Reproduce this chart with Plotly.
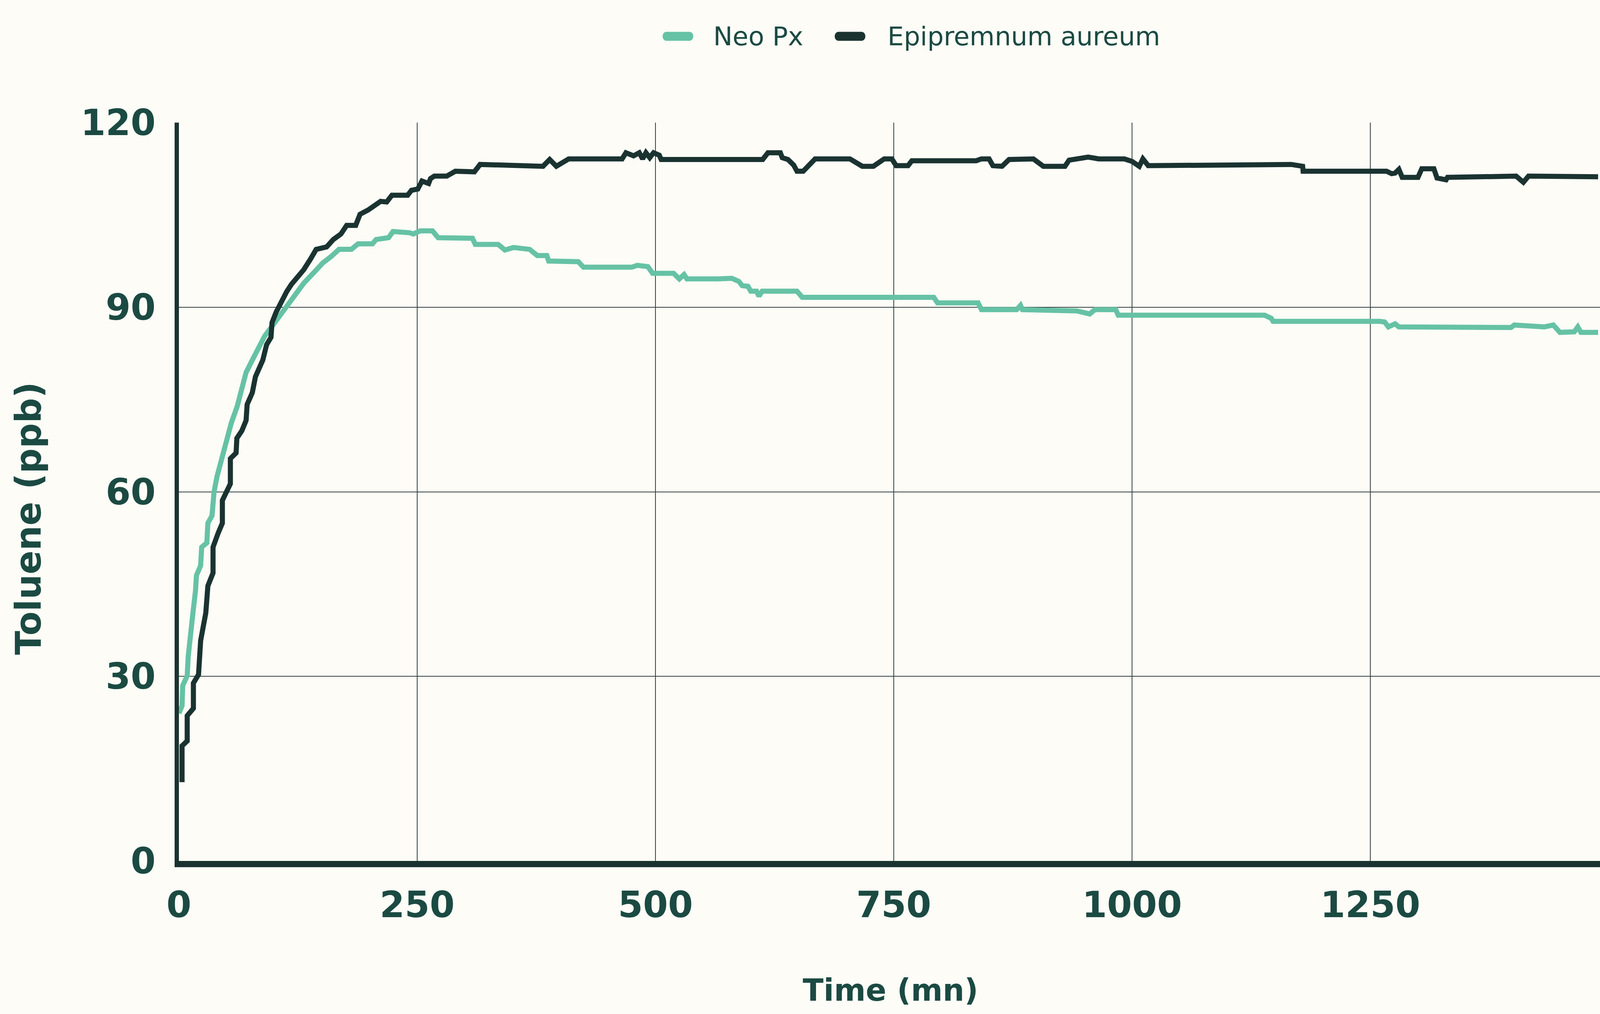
import plotly.graph_objects as go

# ---------------- data ----------------
series_names = ["Neo Px", "Epipremnum aureum"]

neo_t = [0, 3.3, 4.0, 8.7, 9.8, 12, 13, 15, 17.4, 18.4, 22.8, 23.9, 29.3, 30.4, 34.7,
         36.9, 40, 45.6, 50, 55, 61, 66, 70.5, 77, 83.5, 90, 98.7, 107, 114, 122.6,
         131, 142, 151, 159.5, 168, 181, 188, 203, 207, 220, 224.6, 242, 246, 253,
         266, 272, 308, 311, 335, 342, 351, 368, 376, 386, 388, 419, 424.4, 475,
         481, 492, 497, 519, 525, 530, 533, 566, 580, 587.4, 591, 597, 600, 606,
         608.5, 612, 648.5, 654, 751.5, 768.5, 792, 796, 838.5, 842, 879, 883, 885,
         942, 955.6, 961, 983, 985.5, 1139, 1146, 1148, 1259.6, 1265, 1269, 1276,
         1280, 1397.7, 1401, 1423, 1432.7, 1442, 1449, 1464, 1467.7, 1471, 1489]
neo_v = [24.0, 25.2, 28.5, 30.1, 33.3, 36.6, 39.4, 40.7, 43.9, 46.4, 48.0, 51.0, 51.7,
         54.9, 56.1, 60.0, 62.5, 65.8, 68.9, 71.2, 73.8, 76.9, 79.4, 81.4, 83.4, 85.3,
         87.1, 88.8, 90.4, 92.0, 93.9, 95.7, 97.2, 98.2, 99.4, 99.4, 100.3, 100.3,
         101.0, 101.3, 102.3, 102.1, 101.9, 102.4, 102.4, 101.3, 101.2, 100.2, 100.2,
         99.3, 99.7, 99.4, 98.4, 98.4, 97.5, 97.4, 96.5, 96.5, 96.8, 96.6, 95.5, 95.5,
         94.6, 95.3, 94.6, 94.6, 94.7, 94.2, 93.5, 93.4, 92.6, 92.6, 91.8, 92.6, 92.6,
         91.6, 91.6, 91.5, 91.6, 90.7, 90.7, 89.6, 89.6, 90.3, 89.6, 89.4, 88.9, 89.6,
         89.6, 88.7, 88.7, 88.2, 87.7, 87.7, 87.6, 86.8, 87.3, 86.8, 86.7, 87.1, 87.0,
         86.8, 87.1, 85.9, 86.0, 86.8, 85.9, 85.9]

epi_t = [3.3, 3.3, 8.7, 8.7, 15.2, 15.2, 20.6, 22.8, 28.2, 30.4, 35.8, 35.8, 41.2, 45.6,
         45.6, 50, 54, 54, 60, 60.8, 66, 70.5, 71.6, 77, 80.3, 88, 92, 96.6, 97.7, 102,
         107, 113, 118, 125, 131, 138, 144, 155, 162, 170, 176, 185.5, 190, 198.6, 205,
         211.6, 218, 223.5, 240, 244, 250.6, 255, 262, 264, 268, 281, 290, 310, 316,
         382, 389, 396, 409, 465, 469, 477, 483, 486.5, 490, 494, 498, 504, 506, 612.5,
         618, 631, 633, 639, 645, 648.5, 655, 660, 667.5, 704, 707, 713, 717, 728.6,
         740, 748, 752.5, 765, 769, 836.5, 842, 850, 854, 863.6, 871, 896.5, 904, 907,
         929.6, 934, 954, 965, 992, 1000, 1007.6, 1011.4, 1017, 1023, 1167, 1179,
         1179.5, 1267, 1272.5, 1276, 1280, 1283.5, 1300, 1304, 1316.7, 1320, 1329.5,
         1331, 1403, 1410.6, 1416, 1489]
epi_v = [12.8, 18.7, 19.5, 23.6, 24.8, 28.9, 30.3, 35.8, 40.3, 44.7, 46.8, 51.0, 53.3,
         54.9, 58.6, 60.2, 61.3, 65.4, 66.3, 68.7, 69.9, 71.6, 74.2, 76.1, 78.7, 81.4,
         83.9, 85.1, 87.5, 89.2, 90.8, 92.5, 93.7, 94.9, 96.1, 97.8, 99.4, 99.8, 101.0,
         101.9, 103.3, 103.3, 105.1, 105.8, 106.4, 107.2, 107.1, 108.2, 108.2, 109.0,
         109.2, 110.5, 110.1, 110.9, 111.3, 111.3, 112.1, 112.0, 113.2, 112.9, 114.0,
         112.9, 114.1, 114.1, 115.1, 114.6, 115.1, 114.1, 115.1, 114.3, 115.1, 114.7,
         114.0, 114.0, 115.1, 115.1, 114.3, 114.0, 113.1, 112.1, 112.1, 113.0, 114.1,
         114.1, 113.8, 113.4, 112.9, 112.9, 114.1, 114.1, 113.0, 113.0, 113.8, 113.8,
         114.1, 114.1, 113.0, 112.9, 114.0, 114.1, 113.4, 112.9, 112.9, 113.9, 114.4,
         114.1, 114.1, 113.7, 112.9, 114.1, 113.0, 113.0, 113.2, 112.9, 112.1, 112.1,
         111.7, 111.8, 112.4, 111.1, 111.1, 112.5, 112.5, 111.0, 110.7, 111.1, 111.3,
         110.3, 111.3, 111.2]

x_ticks = [0, 250, 500, 750, 1000, 1250]
y_ticks = [0, 30, 60, 90, 120]
x_title = "Time (mn)"
y_title = "Toluene (ppb)"

# ---------------- style / layout ----------------
BG = "#FDFCF7"
GREEN = "#66C2A5"
DARK = "#1A3330"
TEXT = "#1B4A42"
GRID = "#33403D"
FONT = "DejaVu Sans"

# the browser viewport is 4096 px wide; lay the chart out to fill it exactly
REF_W = 5011
W, H = 4096, 2597
SX = W / REF_W          # horizontal factor from reference pixels to page pixels

ML = 560 * SX
MR = 0
MT = 314
MB = H - 2205
PW, PH = W - ML - MR, H - MT - MB


def px(x_ref):
    return (x_ref * SX - ML) / PW


def py(y_ref):
    return (H - MB - y_ref) / PH


fig = go.Figure()
fig.add_trace(go.Scatter(x=neo_t, y=neo_v, mode="lines", name=series_names[0],
                         line=dict(color=GREEN, width=13), showlegend=False,
                         hoverinfo="skip"))
fig.add_trace(go.Scatter(x=epi_t, y=epi_v, mode="lines", name=series_names[1],
                         line=dict(color=DARK, width=13), showlegend=False,
                         hoverinfo="skip"))

# custom legend: pill swatches + labels
hw, hh = 48 * SX, 11.5
rx = 11.5 * SX
k = 0.55
pill = (f"M {-hw + rx},{-hh} L {hw - rx},{-hh} "
        f"C {hw - rx + k * rx},{-hh} {hw},{-hh * k} {hw},0 "
        f"C {hw},{hh * k} {hw - rx + k * rx},{hh} {hw - rx},{hh} "
        f"L {-hw + rx},{hh} "
        f"C {-hw + rx - k * rx},{hh} {-hw},{hh * k} {-hw},0 "
        f"C {-hw},{-hh * k} {-hw + rx - k * rx},{-hh} {-hw + rx},{-hh} Z")
legend_items = [(2123, 2233, GREEN), (2662, 2778, DARK)]
LEG_Y = 93
shapes = []
annotations = []
for (sw_x, tx_x, col), name in zip(legend_items, series_names):
    shapes.append(dict(type="path", xref="paper", yref="paper",
                       xsizemode="pixel", ysizemode="pixel",
                       xanchor=px(sw_x), yanchor=py(LEG_Y), path=pill,
                       fillcolor=col, line=dict(width=0)))
    annotations.append(dict(text=name, xref="paper", yref="paper", x=px(tx_x),
                            y=py(LEG_Y), xanchor="left", yanchor="middle",
                            showarrow=False, borderpad=0,
                            font=dict(family=FONT, size=66, color=TEXT)))

annotations.append(dict(text=y_title, xref="paper", yref="paper", x=px(88),
                        y=py(1328), xanchor="center", yanchor="middle",
                        textangle=-90, showarrow=False,
                        font=dict(family=FONT, size=90, color=TEXT, weight="bold")))
annotations.append(dict(text=x_title, xref="paper", yref="paper", x=px(2789),
                        y=py(2536), xanchor="center", yanchor="middle",
                        showarrow=False, borderpad=0,
                        font=dict(family=FONT, size=78, color=TEXT, weight="bold")))

fig.update_layout(
    width=W, height=H,
    margin=dict(l=ML, r=MR, t=MT, b=MB, pad=0),
    paper_bgcolor=BG, plot_bgcolor=BG,
    showlegend=False,
    shapes=shapes, annotations=annotations,
    hovermode=False,
)
fig.update_xaxes(range=[0, 1491], tickvals=x_ticks, ticktext=[str(v) for v in x_ticks],
                 showgrid=True, gridcolor=GRID, gridwidth=2, zeroline=False,
                 showline=True, linecolor=DARK, linewidth=16, ticks="",
                 tickfont=dict(family=FONT, size=92, color=TEXT, weight="bold"),
                 ticklabelstandoff=18, automargin=False, fixedrange=True)
fig.update_yaxes(range=[0, 120], tickvals=y_ticks, ticktext=[str(v) for v in y_ticks],
                 showgrid=True, gridcolor=GRID, gridwidth=2, zeroline=False,
                 showline=True, linecolor=DARK, linewidth=11, ticks="",
                 tickfont=dict(family=FONT, size=92, color=TEXT, weight="bold"),
                 ticklabelstandoff=30, automargin=False, fixedrange=True)

post = ("document.body.style.margin='0';"
        "document.body.style.background='" + BG + "';"
        "document.documentElement.style.background='" + BG + "';")
fig.write_html("out.html", config={"displayModeBar": False}, post_script=post)
